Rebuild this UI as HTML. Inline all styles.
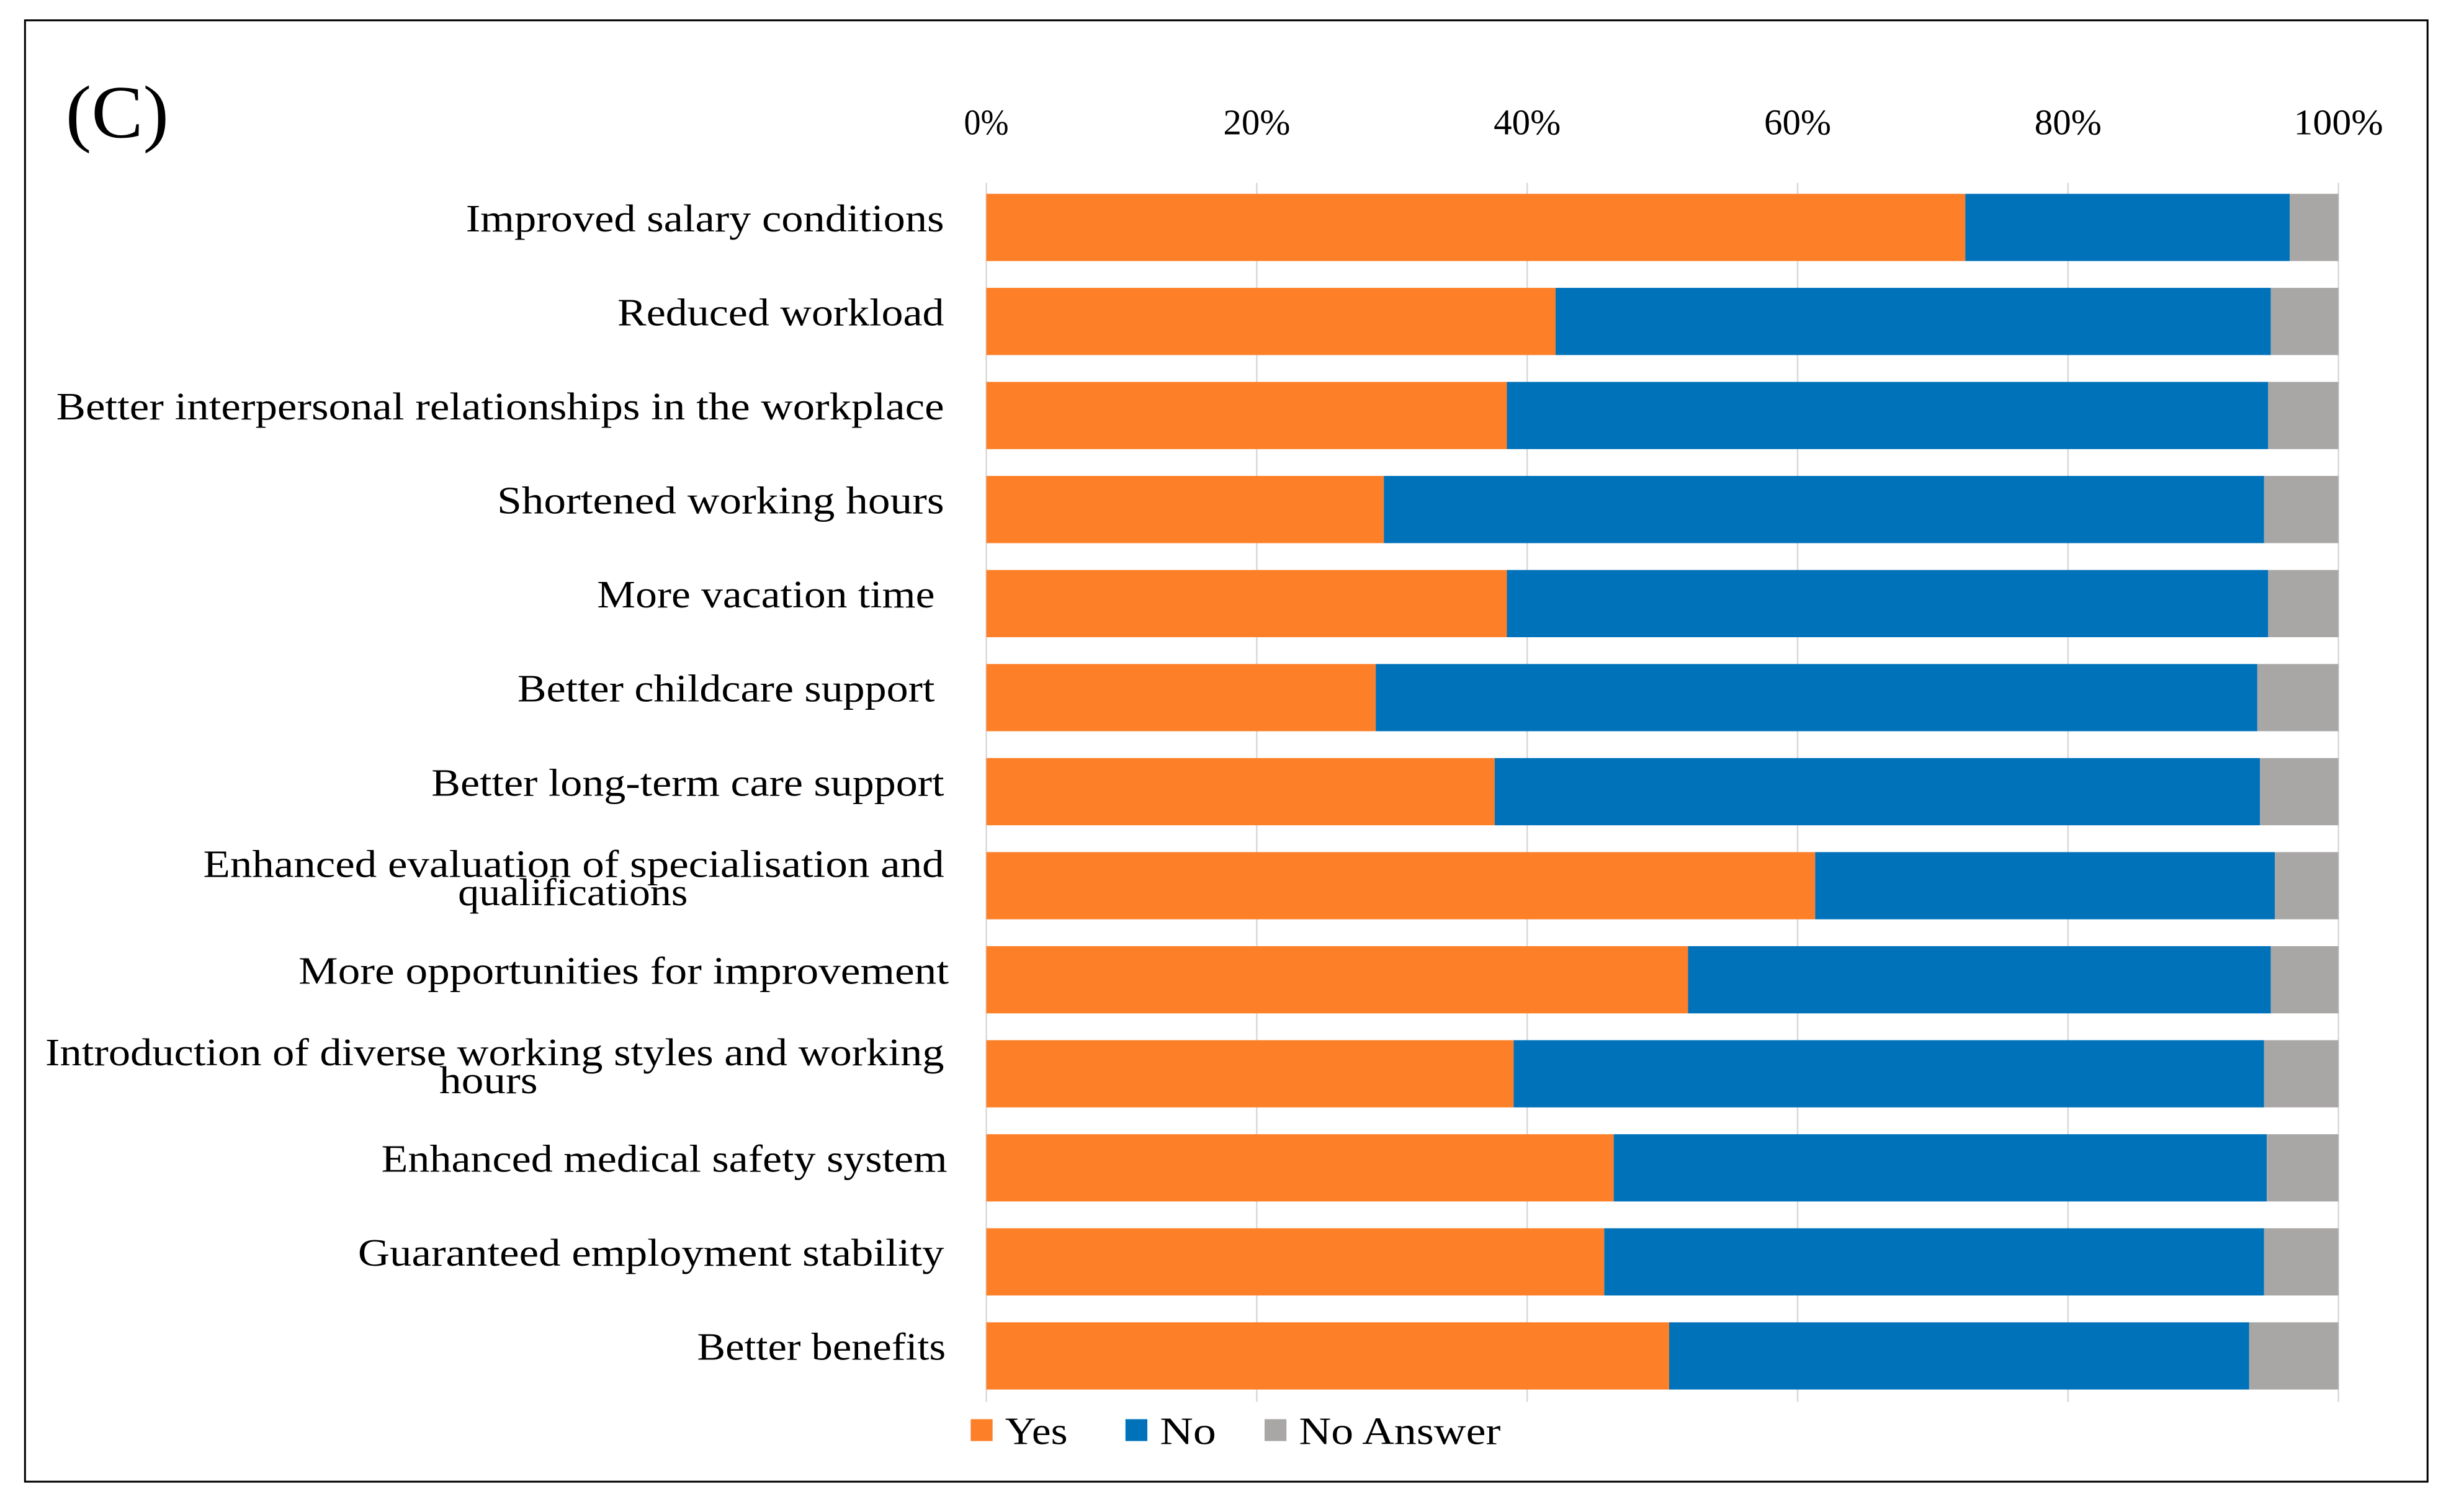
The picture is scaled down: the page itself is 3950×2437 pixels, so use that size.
<!DOCTYPE html>
<html><head><meta charset="utf-8"><style>html,body{margin:0;padding:0;background:#fff}svg{display:block}</style></head>
<body>
<svg width="3950" height="2437" viewBox="0 0 1568 967.4" xmlns="http://www.w3.org/2000/svg" font-family="'Liberation Serif', serif">
<rect x="16" y="13" width="1537" height="935" fill="#fff" stroke="#000" stroke-width="1.2"/>
<text x="42" y="88" font-size="48" textLength="66" lengthAdjust="spacingAndGlyphs">(C)</text>
<g id="grid"></g><g id="bars"></g><g id="labels"></g><g id="ticks"></g>
<g font-size="25">
<rect x="621" y="908" width="14" height="14" fill="#FD7F28"/>
<text x="643" y="924" textLength="40" lengthAdjust="spacingAndGlyphs">Yes</text>
<rect x="720" y="908" width="14" height="14" fill="#0072BA"/>
<text x="742" y="924" textLength="36" lengthAdjust="spacingAndGlyphs">No</text>
<rect x="809" y="908" width="14" height="14" fill="#A9A6A6"/>
<text x="831" y="924" textLength="129" lengthAdjust="spacingAndGlyphs">No Answer</text>
</g>
<script>
const categories = [
 ["Improved salary conditions"],
 ["Reduced workload"],
 ["Better  interpersonal  relationships  in  the  workplace"],
 ["Shortened  working  hours"],
 ["More  vacation  time"],
 ["Better childcare  support"],
 ["Better long-term  care  support"],
 ["Enhanced  evaluation  of  specialisation  and","qualifications"],
 ["More  opportunities  for  improvement"],
 ["Introduction  of  diverse  working  styles  and  working","hours"],
 ["Enhanced  medical  safety  system"],
 ["Guaranteed  employment  stability"],
 ["Better benefits"]
];
const yesValues = [72.4,42.1,38.5,29.4,38.5,28.8,37.6,61.3,51.9,39.0,46.4,45.7,50.5];
const noValues = [24.0,52.9,56.3,65.1,56.3,65.2,56.6,34.0,43.1,55.5,48.3,48.8,42.9];
const naValues = [3.6,5.0,5.2,5.5,5.2,6.0,5.8,4.7,5.0,5.5,5.3,5.5,6.6];
const tickValues = [0,20,40,60,80,100];
const tickLabels = ["0%","20%","40%","60%","80%","100%"];

const NS="http://www.w3.org/2000/svg";
const x0=631, x1=1496, yTop=124, step=60.17, bh=43;
const labelSpans=[[298,604],[395,604],[36,604],[318,604],[382,598],[331,598],[276,604],[130,604],[191,607],[29,604],[244,606],[229,604],[446,605]];
const line2Spans={7:[293,440],9:[281,344]};
const xs=v=>x0+(x1-x0)*v/100;
const ys=i=>yTop+i*step;
function mk(tag,attrs,parent){const e=document.createElementNS(NS,tag);for(const k in attrs)e.setAttribute(k,attrs[k]);parent.appendChild(e);return e;}
const grid=document.getElementById('grid'),bars=document.getElementById('bars'),labels=document.getElementById('labels'),ticks=document.getElementById('ticks');
tickValues.forEach((t,i)=>{
 const l=mk('line',{x1:xs(t),x2:xs(t),y1:117,y2:897,stroke:'#d9d9d9','stroke-width':1},grid);
 
 
 const w=tickLabels[i].length*14.3;
 const tx=mk('text',{x:xs(t)-w/2,y:86,'font-size':23,textLength:w,lengthAdjust:'spacingAndGlyphs'},ticks);
 tx.textContent=tickLabels[i];
 
 
});
categories.forEach((c,i)=>{
 const y=ys(i);
 const segs=[[0,yesValues[i],'#FD7F28','yes'],[yesValues[i],yesValues[i]+noValues[i],'#0072BA','no'],[yesValues[i]+noValues[i],yesValues[i]+noValues[i]+naValues[i],'#A9A6A6','no-answer']];
 segs.forEach(s=>{
  const r=mk('rect',{x:xs(s[0]),y:y,width:xs(s[1])-xs(s[0]),height:bh,fill:s[2]},bars);
  
  
 });
 const sp=labelSpans[i];
 const t=mk('text',{x:sp[0],'font-size':25,textLength:sp[1]-sp[0],lengthAdjust:'spacingAndGlyphs'},labels);
 
 
 t.textContent=c[0].replace(/\s+/g,' ');
 if(c.length===1){t.setAttribute('y',y+24);}
 else{
  t.setAttribute('y',y+16);
  const s2=line2Spans[i];
  const t2=mk('text',{x:s2[0],y:y+34,'font-size':25,textLength:s2[1]-s2[0],lengthAdjust:'spacingAndGlyphs'},labels);
  t2.textContent=c[1];
  
  
 }
});
</script>
</svg>
</body></html>
